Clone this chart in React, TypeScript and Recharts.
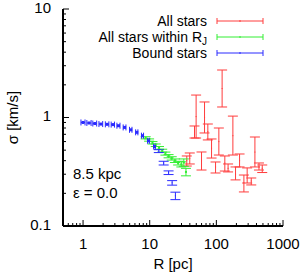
import React from 'react';
import { ScatterChart, Scatter, XAxis, YAxis, ErrorBar } from 'recharts';

// All stars (red): radius [pc], sigma [km/s], lower / upper end of the bar
const allR = [36, 39.9, 47, 49.7, 59.9, 66.5, 74.5, 84.7, 97.3, 109, 122, 134, 150, 177, 194, 223, 259, 290, 334, 379, 436, 488];
const allSigma = [0.4, 0.42, 0.74, 1.02, 0.4, 1.0, 0.74, 0.52, 0.35, 0.6, 1.85, 0.38, 0.34, 0.68, 0.3, 0.4, 0.25, 0.29, 0.26, 0.48, 0.35, 0.34];
const allLow = [0.357, 0.373, 0.647, 0.647, 0.328, 0.72, 0.621, 0.423, 0.308, 0.451, 1.25, 0.321, 0.315, 0.451, 0.266, 0.35, 0.206, 0.249, 0.239, 0.35, 0.328, 0.311];
const allHigh = [0.442, 0.471, 0.835, 1.61, 0.481, 1.39, 0.871, 0.634, 0.389, 0.8, 2.74, 0.442, 0.373, 1.03, 0.35, 0.461, 0.295, 0.343, 0.277, 0.661, 0.381, 0.365];

// All stars within R_J (green)
const rjR = [8.7, 9.8, 11, 12.3, 13.8, 15.4, 17.2, 19.2, 21.4, 23.9, 26.7, 29.8, 32.5, 35];
const rjSigma = [0.65, 0.62, 0.585, 0.555, 0.525, 0.495, 0.465, 0.44, 0.42, 0.4, 0.38, 0.37, 0.385, 0.315];
const rjErr = [0.015, 0.015, 0.015, 0.015, 0.015, 0.015, 0.015, 0.015, 0.015, 0.015, 0.015, 0.02, 0.03, 0.025];

// Bound stars (blue): inner bins with radial bars, outer bins with sigma bars
const boundR = [1.0, 1.23, 1.5, 1.85, 2.3, 2.8, 3.4, 4.2, 5.2, 6.4, 7.8, 9.6, 11.8];
const boundSigma = [0.9, 0.89, 0.88, 0.87, 0.865, 0.86, 0.84, 0.81, 0.77, 0.73, 0.68, 0.61, 0.54];
const boundRErr = [0.07, 0.09, 0.1, 0.12, 0.14, 0.16, 0.18, 0.2, 0.22, 0.25, 0.28, 0.3, 0.35];
const boundOuterR = [13.7, 16.2, 19.2, 21.7, 24.3];
const boundOuterSigma = [0.49, 0.38, 0.31, 0.25, 0.19];
const boundOuterErr = [0.015, 0.015, 0.012, 0.012, 0.015];

const xTicks = [0.5, 0.6, 0.7, 0.8, 0.9, 1, 2, 3, 4, 5, 6, 7, 8, 9, 10, 20, 30, 40, 50, 60, 70, 80, 90, 100, 200, 300, 400, 500, 600, 700, 800, 900, 1000];
const xMajor = [1, 10, 100, 1000];
const yTicks = [0.1, 0.2, 0.3, 0.4, 0.5, 0.6, 0.7, 0.8, 0.9, 1, 2, 3, 4, 5, 6, 7, 8, 9, 10];
const yMajor = [0.1, 1, 10];

const RED = '#ff3c3c';
const GREEN = '#33ee33';
const BLUE = '#2a2aff';
const FONT = '"Liberation Sans", Arial, sans-serif';
const FS = 15;
const LFS = 14;

const allData = allR.map((r, i) => ({ r, s: allSigma[i], e: [allSigma[i] - allLow[i], allHigh[i] - allSigma[i]] }));
const rjData = rjR.map((r, i) => ({ r, s: rjSigma[i], e: rjErr[i] }));
const boundData = boundR.map((r, i) => ({ r, s: boundSigma[i], ex: boundRErr[i] }));
const boundOuterData = boundOuterR.map((r, i) => ({ r, s: boundOuterSigma[i], e: boundOuterErr[i] }));

const BottomTick = (props: any) => {
  const { x, y, payload } = props;
  const major = xMajor.includes(payload.value);
  return (
    <g>
      <line x1={x} x2={x} y1={y} y2={y - (major ? 6 : 3)} stroke="#000" />
      {major && (
        <text x={x} y={y + 17} textAnchor="middle" dominantBaseline="central" fontSize={FS} fontFamily={FONT} fill="#000">
          {payload.value}
        </text>
      )}
    </g>
  );
};

const TopTick = (props: any) => {
  const { x, y, payload } = props;
  const major = xMajor.includes(payload.value);
  return <line x1={x} x2={x} y1={y} y2={y + (major ? 6 : 3)} stroke="#000" />;
};

const LeftTick = (props: any) => {
  const { x, y, payload } = props;
  const major = yMajor.includes(payload.value);
  return (
    <g>
      <line x1={x} x2={x + (major ? 6 : 3)} y1={y} y2={y} stroke="#000" />
      {major && (
        <text x={x - 12} y={y - 2} textAnchor="end" dominantBaseline="central" fontSize={FS} fontFamily={FONT} fill="#000">
          {payload.value}
        </text>
      )}
    </g>
  );
};

const RightTick = (props: any) => {
  const { x, y, payload } = props;
  const major = yMajor.includes(payload.value);
  return <line x1={x} x2={x - (major ? 6 : 3)} y1={y} y2={y} stroke="#000" />;
};

const YLabel = (props: any) => {
  const vb = props.viewBox;
  const cx = vb.x + 12;
  const cy = vb.y + vb.height / 2;
  return (
    <text x={cx} y={cy} transform={`rotate(-90 ${cx} ${cy})`} textAnchor="middle" dominantBaseline="central" fontSize={FS} fontFamily={FONT} fill="#000">
      σ [km/s]
    </text>
  );
};

const dot = (color: string, size: number) => (props: any) => (
  <rect x={props.cx - size / 2} y={props.cy - size / 2} width={size} height={size} fill={color} />
);

const LegendRow = ({ y, color, children }: { y: number; color: string; children: React.ReactNode }) => (
  <g>
    <text x={207} y={y} textAnchor="end" dominantBaseline="central" fontSize={LFS} fontFamily={FONT} fill="#000">
      {children}
    </text>
    <line x1={217} x2={263} y1={y} y2={y} stroke={color} />
    <line x1={217} x2={217} y1={y - 3} y2={y + 3} stroke={color} />
    <line x1={263} x2={263} y1={y - 3} y2={y + 3} stroke={color} />
    <line x1={240} x2={240} y1={y - 1} y2={y + 1} stroke={color} />
  </g>
);

export default function App() {
  return (
    <div style={{ position: 'absolute', left: 0, top: 0, width: 300, height: 275, background: '#fff' }}>
      <ScatterChart width={300} height={275} margin={{ top: 9, right: 17, bottom: 0, left: 0 }}>
        <XAxis
          type="number"
          dataKey="r"
          scale="log"
          domain={[0.5, 1000]}
          allowDataOverflow
          ticks={xTicks}
          interval={0}
          height={49}
          tickSize={0}
          tickMargin={0}
          tick={<BottomTick />}
          axisLine={{ stroke: '#000', strokeWidth: 2 }}
          label={{ value: 'R [pc]', position: 'insideBottom', offset: 6, fontSize: FS, fontFamily: FONT, fill: '#000' }}
        />
        <XAxis
          xAxisId="top"
          orientation="top"
          type="number"
          scale="log"
          domain={[0.5, 1000]}
          allowDataOverflow
          ticks={xTicks}
          interval={0}
          height={0}
          tickSize={0}
          tickMargin={0}
          tick={<TopTick />}
          axisLine={{ stroke: '#000', strokeWidth: 2 }}
        />
        <YAxis
          type="number"
          dataKey="s"
          scale="log"
          domain={[0.1, 10]}
          allowDataOverflow
          ticks={yTicks}
          interval={0}
          width={63}
          tickSize={0}
          tickMargin={0}
          tick={<LeftTick />}
          axisLine={{ stroke: '#000', strokeWidth: 2 }}
          label={<YLabel />}
        />
        <YAxis
          yAxisId="right"
          orientation="right"
          type="number"
          scale="log"
          domain={[0.1, 10]}
          allowDataOverflow
          ticks={yTicks}
          interval={0}
          width={0}
          tickSize={0}
          tickMargin={0}
          tick={<RightTick />}
          axisLine={{ stroke: '#000', strokeWidth: 2 }}
        />
        <Scatter name="All stars" data={allData} shape={dot(RED, 1)} isAnimationActive={false}>
          <ErrorBar dataKey="e" direction="y" width={5} stroke={RED} strokeWidth={1} />
        </Scatter>
        <Scatter name="All stars within RJ" data={rjData} shape={dot(GREEN, 2)} isAnimationActive={false}>
          <ErrorBar dataKey="e" direction="y" width={5} stroke={GREEN} strokeWidth={1} />
        </Scatter>
        <Scatter name="Bound stars" data={boundData} shape={dot(BLUE, 3)} isAnimationActive={false}>
          <ErrorBar dataKey="ex" direction="x" width={3} stroke={BLUE} strokeWidth={1} />
        </Scatter>
        <Scatter name="Bound stars outer" data={boundOuterData} shape={dot(BLUE, 1)} isAnimationActive={false}>
          <ErrorBar dataKey="e" direction="y" width={5} stroke={BLUE} strokeWidth={1} />
        </Scatter>
      </ScatterChart>
      <svg width={300} height={275} style={{ position: 'absolute', left: 0, top: 0, pointerEvents: 'none' }}>
        <LegendRow y={21} color={RED}>All stars</LegendRow>
        <LegendRow y={37} color={GREEN}>
          All stars within R<tspan dy={4} fontSize={10}>J</tspan>
        </LegendRow>
        <LegendRow y={53} color={BLUE}>Bound stars</LegendRow>
        <text x={73} y={173} dominantBaseline="central" fontSize={FS} fontFamily={FONT} fill="#000">8.5 kpc</text>
        <text x={73} y={192} dominantBaseline="central" fontSize={FS} fontFamily={FONT} fill="#000">ε = 0.0</text>
      </svg>
    </div>
  );
}
